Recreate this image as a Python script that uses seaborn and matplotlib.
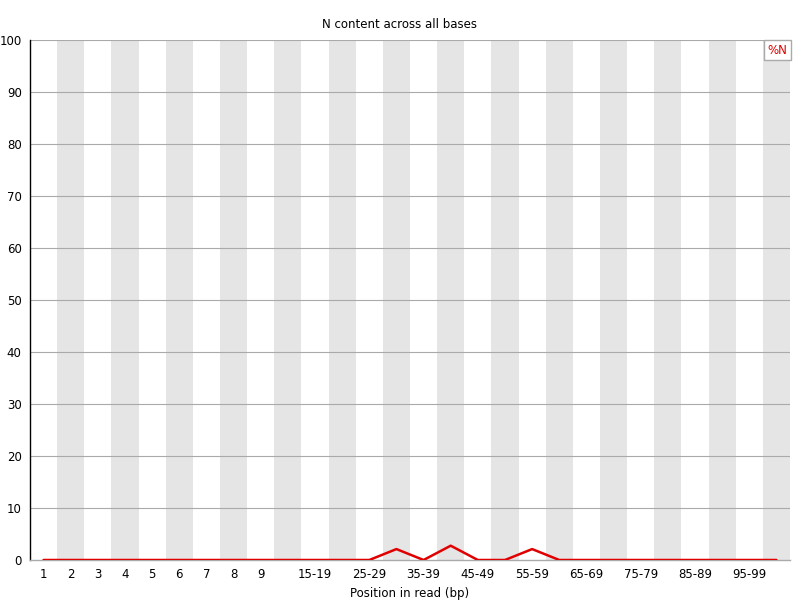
import matplotlib
matplotlib.use("Agg")
import matplotlib.pyplot as plt
import seaborn as sns
import pandas as pd

# positions in read (bp) and %N at each
positions = ['1', '2', '3', '4', '5', '6', '7', '8', '9',
             '10-14', '15-19', '20-24', '25-29', '30-34', '35-39',
             '40-44', '45-49', '50-54', '55-59', '60-64', '65-69',
             '70-74', '75-79', '80-84', '85-89', '90-94', '95-99', '100-101']
pct_n = [0, 0, 0, 0, 0, 0, 0, 0, 0,
         0, 0, 0, 0, 2.1, 0,
         2.75, 0, 0, 2.1, 0, 0,
         0, 0, 0, 0, 0, 0, 0]
shown_labels = ['1', '2', '3', '4', '5', '6', '7', '8', '9',
                '15-19', '25-29', '35-39', '45-49', '55-59',
                '65-69', '75-79', '85-89', '95-99']

df = pd.DataFrame({'pos': range(len(positions)), 'label': positions, 'pct': pct_n})

sns.set_style('white')
plt.rcParams['font.family'] = ['DejaVu Sans']
plt.rcParams['text.color'] = 'black'
plt.rcParams['xtick.color'] = 'black'
plt.rcParams['ytick.color'] = 'black'
plt.rcParams['axes.labelcolor'] = 'black'

fig = plt.figure(figsize=(8, 6), dpi=100)
ax = fig.add_axes([30 / 800, 40 / 600, 760 / 800, 520 / 600])

# alternating grey bands, one per position
for i in range(len(positions)):
    if i % 2 == 1:
        ax.axvspan(i - 0.5, i + 0.5, color='#e5e5e5', lw=0, zorder=0)

for yv in range(10, 101, 10):
    ax.axhline(yv, color='#aaaaaa', lw=0.8, zorder=1)

sns.lineplot(data=df, x='pos', y='pct', color='#e00000', lw=1.8, ax=ax, zorder=3)

ax.set_xlim(-0.5, len(positions) - 0.5)
ax.set_ylim(0, 100)
ax.set_yticks(range(0, 101, 10))
ax.set_yticklabels([str(v) for v in range(0, 101, 10)], fontsize=8.5)
ticks = [i for i, p in enumerate(positions) if p in shown_labels]
ax.set_xticks(ticks)
ax.set_xticklabels([positions[i] for i in ticks], fontsize=8.5)
ax.tick_params(axis='both', length=0, pad=6)

for side in ['top', 'right']:
    ax.spines[side].set_visible(False)
ax.spines['left'].set_color('black')
ax.spines['left'].set_linewidth(1)
ax.spines['bottom'].set_color('#aaaaaa')
ax.spines['bottom'].set_linewidth(1)

ax.set_xlabel('Position in read (bp)', fontsize=8.5, labelpad=4)
ax.set_ylabel('')
fig.text(0.5, 1 - 25 / 600, 'N content across all bases', ha='center', va='center', fontsize=8.5)

# legend box
ax.text(0.997, 0.993, '%N', transform=ax.transAxes, ha='right', va='top', color='#e00000',
        fontsize=8.5, bbox=dict(boxstyle='square,pad=0.3', fc='white', ec='#aaaaaa', lw=1))

fig.savefig('out.png', dpi=100)
